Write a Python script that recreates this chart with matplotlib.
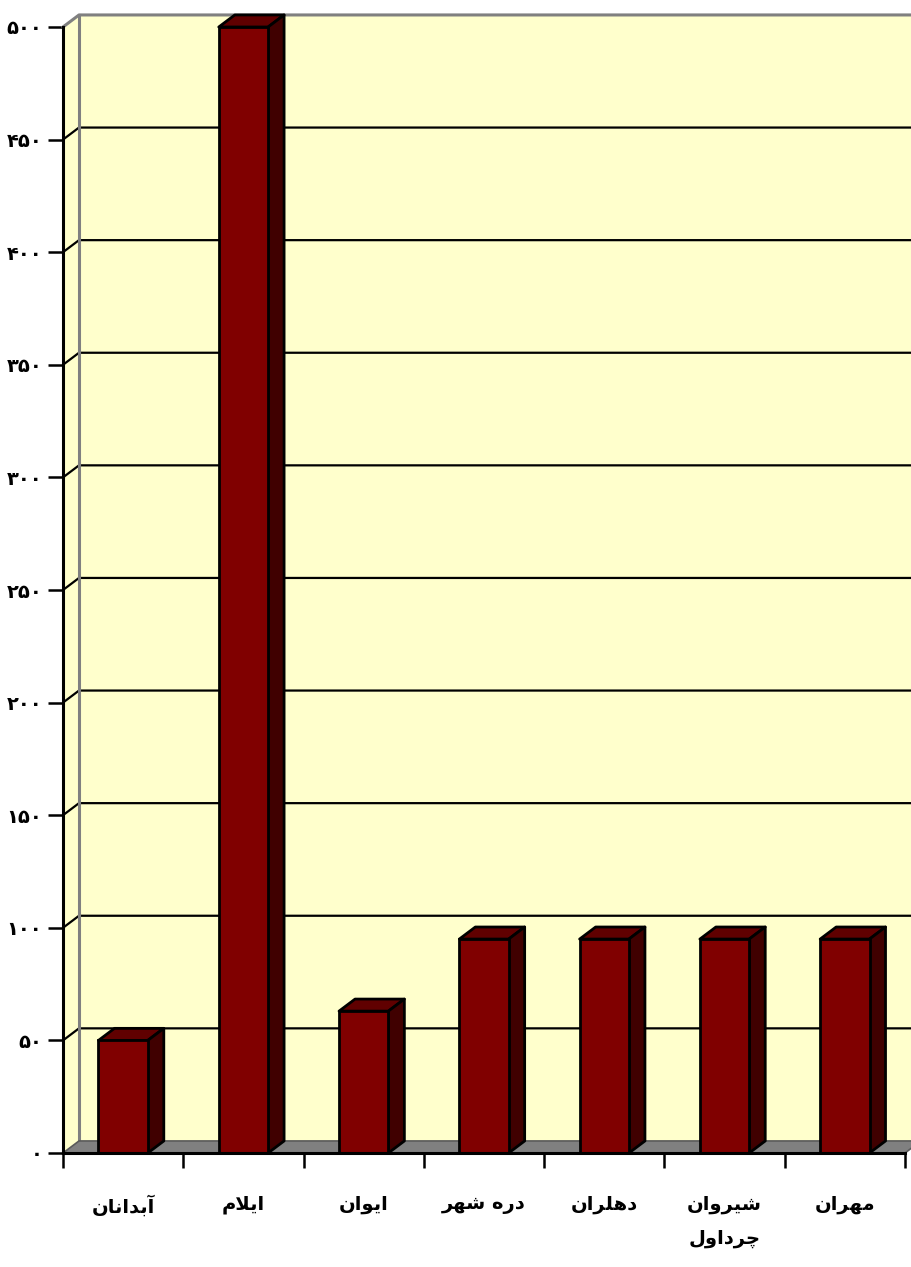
#!/usr/bin/env python3
# -*- coding: utf-8 -*-
"""
3D-style column chart (Excel look) with Persian labels
"""

import matplotlib
matplotlib.use('Agg')
import matplotlib.pyplot as plt
from matplotlib.patches import Polygon
from matplotlib.ticker import FuncFormatter, FixedLocator
import numpy as np

plt.rcParams['font.family'] = ['DejaVu Sans']
plt.rcParams['font.weight'] = 'bold'

# Data
categories = ['آبدانان', 'ایلام', 'ایوان', 'دره شهر', 'دهلران', 'شیروان\nچرداول', 'مهران']
values = [50, 500, 63, 95, 95, 95, 95]
y_ticks = list(range(0, 501, 50))

# Style
WALL = '#FFFFCC'
FLOOR = '#808080'
EDGE = '#808080'
BAR_FRONT = '#800000'
BAR_TOP = '#600000'
BAR_SIDE = '#400000'
DEPTH_X = 0.133   # depth offset in category units
DEPTH_Y = 5.35    # depth offset in value units
BAR_W = 0.41
LW = 2.0

# Minimal Persian shaping: (isolated, final, initial, medial)
FORMS = {
    'ا': (0xFE8D, 0xFE8E, None, None),
    'آ': (0xFE81, 0xFE82, None, None),
    'د': (0xFEA9, 0xFEAA, None, None),
    'ر': (0xFEAD, 0xFEAE, None, None),
    'و': (0xFEED, 0xFEEE, None, None),
    'ب': (0xFE8F, 0xFE90, 0xFE91, 0xFE92),
    'ن': (0xFEE5, 0xFEE6, 0xFEE7, 0xFEE8),
    'ل': (0xFEDD, 0xFEDE, 0xFEDF, 0xFEE0),
    'م': (0xFEE1, 0xFEE2, 0xFEE3, 0xFEE4),
    'ش': (0xFEB5, 0xFEB6, 0xFEB7, 0xFEB8),
    'ه': (0xFEE9, 0xFEEA, 0xFEEB, 0xFEEC),
    'ی': (0xFBFC, 0xFBFD, 0xFBFE, 0xFBFF),
    'چ': (0xFB7A, 0xFB7B, 0xFB7C, 0xFB7D),
}
FA_DIGITS = '۰۱۲۳۴۵۶۷۸۹'


def dual(ch):
    return ch in FORMS and FORMS[ch][2] is not None


def shape_line(line):
    out = []
    i = 0
    n = len(line)
    while i < n:
        ch = line[i]
        if ch not in FORMS:
            out.append(ch)
            i += 1
            continue
        prev = line[i - 1] if i > 0 else ''
        join_prev = dual(prev)
        if ch == 'ل' and i + 1 < n and line[i + 1] in 'اآ':
            out.append(chr(0xFEFC if join_prev else 0xFEFB))
            i += 2
            continue
        nxt = line[i + 1] if i + 1 < n else ''
        join_next = dual(ch) and nxt in FORMS
        iso, fin, ini, med = FORMS[ch]
        if join_prev and join_next:
            code = med
        elif join_prev:
            code = fin
        elif join_next:
            code = ini
        else:
            code = iso
        out.append(chr(code))
        i += 1
    return ''.join(out)[::-1]


def shape_fa(text):
    return '\n'.join(shape_line(l) for l in text.split('\n'))


def fa_number(v, pos=None):
    return ''.join(FA_DIGITS[int(d)] for d in str(int(round(v))))


fig = plt.figure(figsize=(9.11, 12.67), dpi=100)
ax = fig.add_axes([63 / 911, 114 / 1267, 842 / 911, 1126 / 1267])
ax.set_xlim(0, len(categories))
ax.set_ylim(0, 500)
for s in ax.spines.values():
    s.set_visible(False)
ax.set_facecolor('none')

n = len(categories)
dx, dy = DEPTH_X, DEPTH_Y
top = y_ticks[-1]

# back wall, left wall, floor
ax.add_patch(Polygon([(dx, dy), (n + dx, dy), (n + dx, top + dy), (dx, top + dy)],
                     closed=True, facecolor=WALL, edgecolor='none', zorder=1, clip_on=False))
ax.add_patch(Polygon([(0, 0), (dx, dy), (dx, top + dy), (0, top)],
                     closed=True, facecolor=WALL, edgecolor='none', zorder=1, clip_on=False))
ax.add_patch(Polygon([(0, 0), (n, 0), (n + dx, dy), (dx, dy)],
                     closed=True, facecolor=FLOOR, edgecolor='none', zorder=2, clip_on=False))

# gridlines on the wall
for t in y_ticks[1:-1]:
    ax.plot([0, dx, n + dx], [t, t + dy, t + dy], color='black', lw=1.6, zorder=2,
            clip_on=False, solid_capstyle='butt')
# wall edges
ax.plot([0, dx, n + dx], [top, top + dy, top + dy], color=EDGE, lw=2.2, zorder=2, clip_on=False)
ax.plot([dx, dx], [dy, top + dy], color=EDGE, lw=2.2, zorder=2, clip_on=False)
ax.plot([0, dx, n + dx], [0, dy, dy], color='#5a5a5a', lw=1.2, zorder=2, clip_on=False)
ax.plot([n, n + dx], [0, dy], color='#5a5a5a', lw=1.2, zorder=2, clip_on=False)

# bars
x = np.arange(n) + 0.5
ax.bar(x, values, BAR_W, color=BAR_FRONT, edgecolor='black', linewidth=LW, zorder=4)
for xi, v in zip(x, values):
    l, r = xi - BAR_W / 2, xi + BAR_W / 2
    ax.add_patch(Polygon([(l, v), (r, v), (r + dx, v + dy), (l + dx, v + dy)], closed=True,
                         facecolor=BAR_TOP, edgecolor='black', lw=LW, zorder=3,
                         clip_on=False, joinstyle='round'))
    ax.add_patch(Polygon([(r, 0), (r + dx, dy), (r + dx, v + dy), (r, v)], closed=True,
                         facecolor=BAR_SIDE, edgecolor='black', lw=LW, zorder=3,
                         clip_on=False, joinstyle='round'))

# front axes
ax.plot([0, 0], [0, top], color='black', lw=2.2, zorder=5, clip_on=False)
ax.plot([0, n], [0, 0], color='black', lw=2.2, zorder=5, clip_on=False)

ax.yaxis.set_major_locator(FixedLocator(y_ticks))
ax.yaxis.set_major_formatter(FuncFormatter(fa_number))
ax.tick_params(axis='y', direction='out', length=11, width=1.8, pad=4,
               labelsize=14, colors='black')

ax.xaxis.set_major_locator(FixedLocator(np.arange(n + 1)))
ax.xaxis.set_minor_locator(FixedLocator(x))
ax.set_xticklabels([], minor=False)
ax.set_xticklabels([shape_fa(c) for c in categories], minor=True)
ax.tick_params(axis='x', which='major', direction='out', length=11, width=1.8)
ax.tick_params(axis='x', which='minor', length=0, pad=30, labelsize=14)
for lbl in ax.get_xticklabels(minor=True):
    lbl.set_linespacing(2.0)
    lbl.set_fontweight('bold')
    lbl.set_verticalalignment('top')

fig.savefig('out.png', dpi=100)
plt.close(fig)
